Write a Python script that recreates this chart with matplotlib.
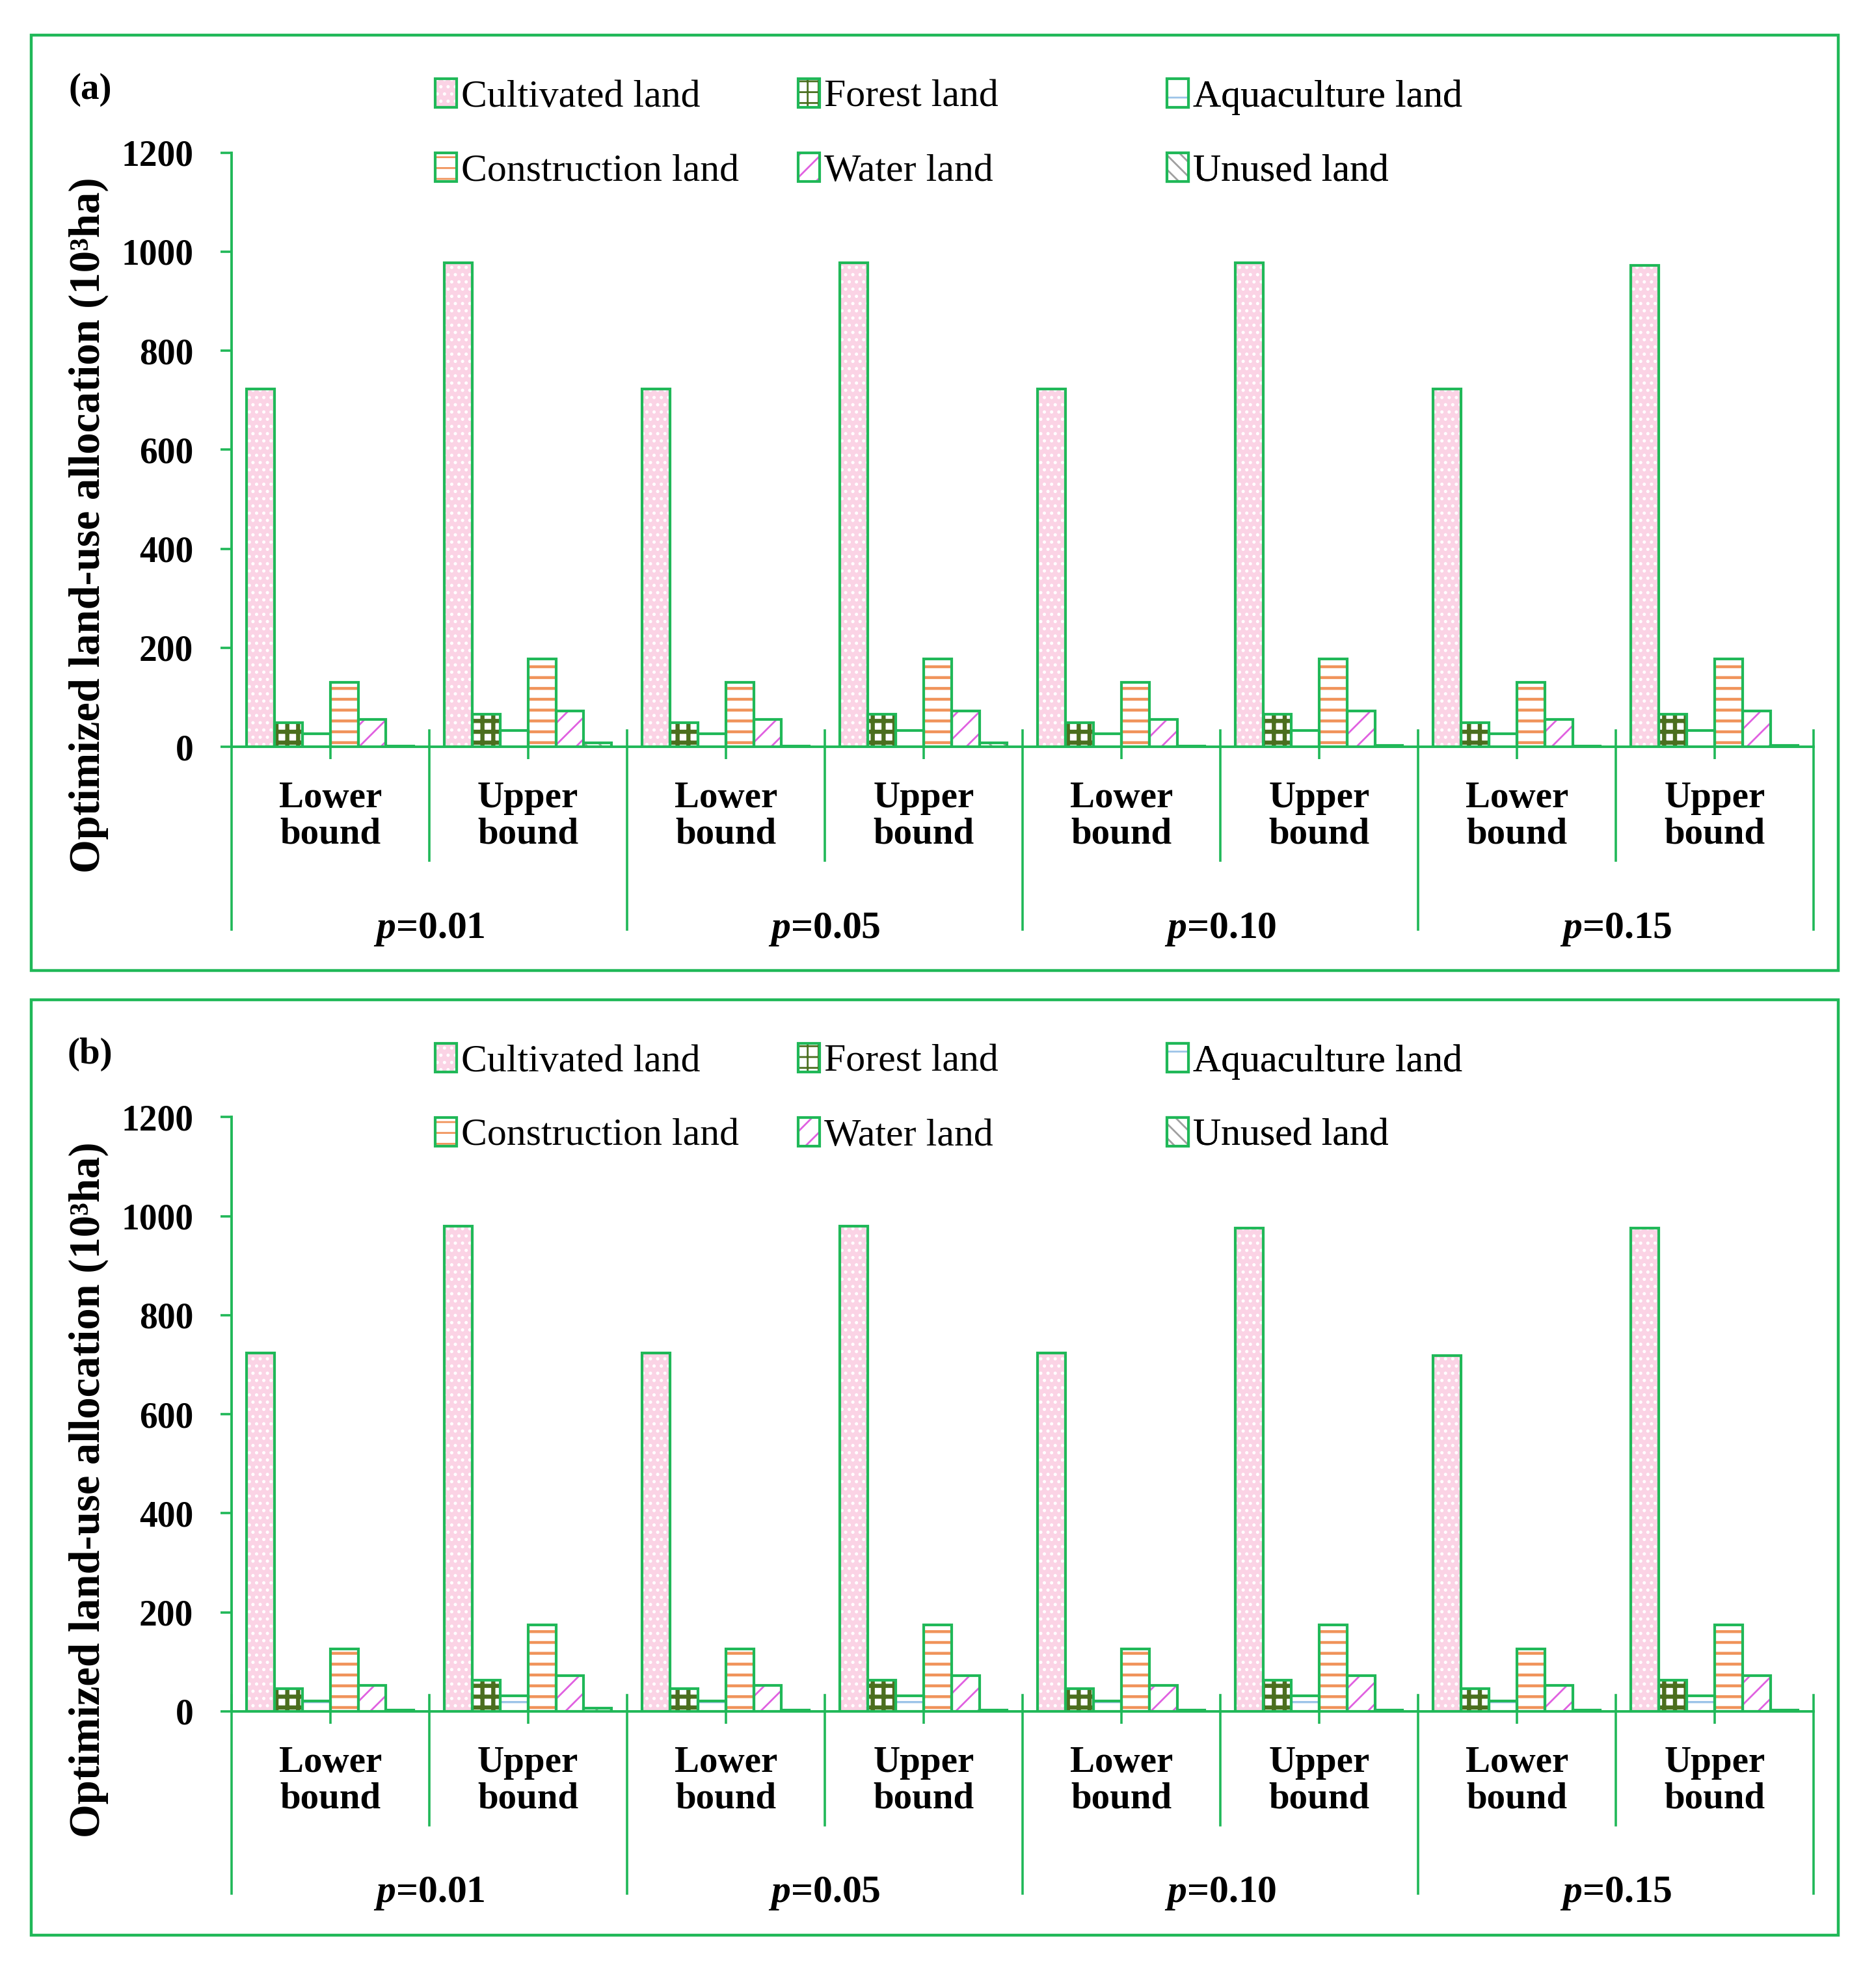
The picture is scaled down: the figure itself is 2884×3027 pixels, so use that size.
import numpy as np
import matplotlib.pyplot as plt
from matplotlib.patches import Rectangle
from matplotlib.transforms import blended_transform_factory
from matplotlib.legend_handler import HandlerTuple

plt.rcParams['font.family'] = ['Liberation Serif', 'DejaVu Serif']
plt.rcParams['mathtext.fontset'] = 'custom'
plt.rcParams['mathtext.it'] = 'Liberation Serif:italic:bold'
plt.rcParams['mathtext.rm'] = 'Liberation Serif:bold'

# data
categories = ['Lower\nbound', 'Upper\nbound'] * 4
p_labels = ['0.01', '0.05', '0.10', '0.15']
land_types = ['Cultivated land', 'Forest land', 'Aquaculture land',
              'Construction land', 'Water land', 'Unused land']

a_cultivated = [722, 977, 722, 977, 722, 977, 722, 972]
a_forest = [49, 66, 49, 66, 49, 66, 49, 66]
a_aquaculture = [26, 33, 26, 33, 26, 33, 26, 33]
a_construction = [130, 177, 130, 177, 130, 177, 130, 177]
a_water = [55, 73, 55, 73, 55, 73, 55, 73]
a_unused = [2, 8, 2, 8, 2, 3, 2, 3]

b_cultivated = [723, 980, 723, 980, 723, 976, 719, 976]
b_forest = [46, 63, 46, 63, 46, 63, 46, 63]
b_aquaculture = [21, 31, 21, 31, 21, 31, 21, 31]
b_construction = [126, 174, 126, 174, 126, 174, 126, 174]
b_water = [52, 72, 52, 72, 52, 72, 52, 72]
b_unused = [2, 6, 2, 3, 2, 3, 2, 3]

green = '#20b858'
faces = ['#fbd3e5', 'white', 'white', 'white', 'white', 'white']
hatch_cols = ['white', '#4b6e1e', '#9cc3e8', '#f0935a', '#e060e0', '#a0a0a0']
hatches = ['...', '++', '-', '--', '//', '\\\\\\']
hatch_lws = [1.0, 2.3, 1.2, 1.6, 1.0, 1.0]

W, H = 1500.0, 1574.0


def fx(x):
    return x / W


def fy(y):
    return 1 - y / H


fig = plt.figure(figsize=(14.42, 15.135), dpi=200)


def draw_panel(top, values, tag):
    # panel frame
    fig.add_artist(Rectangle((fx(25), fy(top + 748)), 1445 / W, 748 / H,
                             transform=fig.transFigure, fill=False,
                             edgecolor=green, linewidth=1.6))
    ax = fig.add_axes([fx(185), fy(top + 569), (1450 - 185) / W, 475 / H])
    x = np.arange(len(categories))
    width = 0.141
    handles = []
    for j, vals in enumerate(values):
        xs = x + (j - 2.5) * width
        fill = ax.bar(xs, vals, width, color=faces[j], edgecolor=hatch_cols[j],
                      hatch=hatches[j], linewidth=0, zorder=2)
        for p in fill:
            if hasattr(p, 'set_hatch_linewidth'):
                p.set_hatch_linewidth(hatch_lws[j])
        edge = ax.bar(xs, vals, width, fill=False, edgecolor=green,
                      linewidth=1.5, zorder=3)
        handles.append((fill[0], edge[0]))

    ax.set_xlim(-0.5, 7.5)
    ax.set_ylim(0, 1200)
    ax.set_yticks(range(0, 1201, 200))
    ax.set_xticks(x)
    ax.tick_params(axis='x', length=7, width=1.3, color=green, labelbottom=False)
    ax.tick_params(axis='y', length=6, width=1.3, color=green, pad=15, labelsize=20)
    for lab in ax.get_yticklabels():
        lab.set_fontweight('bold')
    for s in ['top', 'right']:
        ax.spines[s].set_visible(False)
    for s in ['left', 'bottom']:
        ax.spines[s].set_color(green)
        ax.spines[s].set_linewidth(1.4)

    trans = blended_transform_factory(ax.transData, ax.transAxes)
    for b in range(9):
        low = -0.307 if b % 2 == 0 else -0.192
        ax.plot([b - 0.5, b - 0.5], [0.027, low], color=green, lw=1.3,
                transform=trans, clip_on=False)
    for i, c in enumerate(categories):
        ax.text(i, -0.117, c, transform=trans, ha='center', va='center',
                fontsize=20.5, fontweight='bold', linespacing=1.1)
    for k, p in enumerate(p_labels):
        ax.text(2 * k + 0.5, -0.307, r'$p$=' + p, transform=trans,
                ha='center', va='center', fontsize=21.5, fontweight='bold')

    fig.text(fx(71), fy(top + 392), 'Optimized land-use allocation (10³ha)',
             rotation=90, ha='center', va='center', fontsize=24, fontweight='bold')
    fig.text(fx(72), fy(top + 44), tag, ha='center', va='center',
             fontsize=20.5, fontweight='bold')

    # legend, three columns of two entries
    col_x = [348, 638, 933]
    for c in range(3):
        idx = [c, c + 3]
        leg = ax.legend([handles[i] for i in idx], [land_types[i] for i in idx],
                        handler_map={tuple: HandlerTuple(ndivide=1)},
                        loc='upper left', bbox_to_anchor=(fx(col_x[c]), fy(top + 35)),
                        bbox_transform=fig.transFigure, frameon=False, fontsize=21.5,
                        handlelength=0.55, handleheight=0.75, handletextpad=0.12,
                        labelspacing=0.98, borderpad=0, borderaxespad=0)
        ax.add_artist(leg)
    return ax


draw_panel(28, [a_cultivated, a_forest, a_aquaculture, a_construction, a_water, a_unused], '(a)')
draw_panel(799, [b_cultivated, b_forest, b_aquaculture, b_construction, b_water, b_unused], '(b)')

fig.savefig('out.png', dpi=200)
